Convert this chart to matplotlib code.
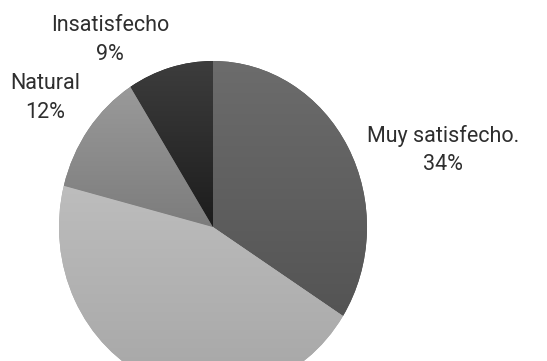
import numpy as np
import matplotlib
matplotlib.use("Agg")
import matplotlib.pyplot as plt
from matplotlib.colors import LinearSegmentedColormap

categories = ["Muy satisfecho.", "Satisfecho", "Natural", "Insatisfecho"]
values = [34, 45, 12, 9]
# top / bottom shades of each slice's vertical gradient fill
shade_top = ["#6c6c6c", "#bdbdbd", "#9a9a9a", "#3d3d3d"]
shade_bottom = ["#545454", "#a6a6a6", "#7c7c7c", "#1c1c1c"]

W, H = 547, 361
fig = plt.figure(figsize=(W / 100, H / 100), dpi=100)
ax = fig.add_axes([0, 0, 1, 1])

cx, cy = 213, 227          # pie centre in pixels
rx, ry = 154, 166          # horizontal / vertical radius in pixels

wedges, _ = ax.pie(values, startangle=90, counterclock=False, radius=1,
                   wedgeprops=dict(linewidth=0))
ax.set_aspect("auto")
ax.axis("off")

# vertical gradient per wedge, clipped to the wedge shape
for w, c0, c1 in zip(wedges, shade_top, shade_bottom):
    bb = w.get_path().get_extents(w.get_patch_transform())
    cmap = LinearSegmentedColormap.from_list("g", [c1, c0])
    grad = np.linspace(0, 1, 256).reshape(-1, 1)
    im = ax.imshow(grad, cmap=cmap, origin="lower", aspect="auto",
                   extent=[bb.x0, bb.x1, bb.y0, bb.y1], zorder=2,
                   interpolation="bilinear")
    im.set_clip_path(w)
    w.set_facecolor(c1)
ax.set_aspect("auto")
ax.set_xlim(-cx / rx, (W - cx) / rx)
ax.set_ylim(-(H - cy) / ry, cy / ry)

# data labels outside the slices (pixel positions in the figure)
label_pos = {"Muy satisfecho.": (443, 150), "Natural": (45, 98),
             "Insatisfecho": (110, 40)}
for name, v in zip(categories, values):
    if name in label_pos:
        x, y = label_pos[name]
        fig.text(x / W, 1 - y / H, f"{name}\n{v}%", ha="center", va="center",
                 fontsize=15.5, family="Roboto", color="#2e2e2e",
                 linespacing=1.45)

fig.savefig("out.png", dpi=100)
